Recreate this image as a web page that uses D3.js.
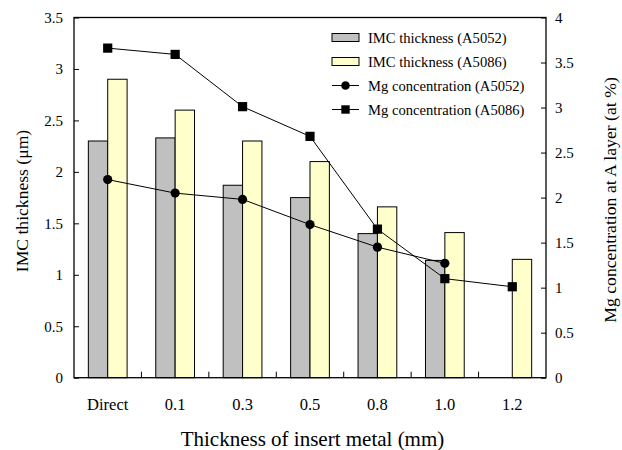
<!DOCTYPE html>
<html>
<head>
<meta charset="utf-8">
<script src="https://cdn.jsdelivr.net/npm/d3@7.9.0/dist/d3.min.js"></script>
<style>
  body { margin: 0; background: #fff; }
</style>
</head>
<body>
<svg width="622" height="450"></svg>
<script>
// data
const categories = ['Direct', '0.1', '0.3', '0.5', '0.8', '1.0', '1.2'];
const imcA5052 = [2.30, 2.33, 1.87, 1.75, 1.40, 1.14, null];
const imcA5086 = [2.90, 2.60, 2.30, 2.10, 1.66, 1.41, 1.15];
const mgA5052 = [2.20, 2.05, 1.98, 1.70, 1.45, 1.27, null];
const mgA5086 = [3.66, 3.59, 3.01, 2.68, 1.65, 1.10, 1.01];
const leftTicks = [0, 0.5, 1, 1.5, 2, 2.5, 3, 3.5];
const rightTicks = [0, 0.5, 1, 1.5, 2, 2.5, 3, 3.5, 4];

const serif = '"Liberation Serif", "Times New Roman", Times, "DejaVu Serif", serif';

const svg = d3.select('svg');
const plotL = 74, plotR = 546, plotT = 17.5, plotB = 377.7;

const x = d3.scaleBand().domain(categories).range([plotL, plotR]).padding(0);
const xSub = d3.scaleBand().domain(['A5052', 'A5086']).range([0, x.bandwidth()]).paddingInner(0).paddingOuter(0.74);
const yL = d3.scaleLinear().domain([0, 3.5]).range([plotB, plotT]);
const yR = d3.scaleLinear().domain([0, 4]).range([plotB, plotT]);

// bars
const barSeries = [
  { key: 'A5052', values: imcA5052, fill: '#c0c0c0' },
  { key: 'A5086', values: imcA5086, fill: '#ffffcc' }
];
barSeries.forEach(s => {
  svg.append('g').selectAll('rect')
    .data(categories.map((c, i) => ({ c, v: s.values[i] })).filter(d => d.v != null))
    .enter().append('rect')
    .attr('x', d => x(d.c) + xSub(s.key))
    .attr('y', d => yL(d.v))
    .attr('width', xSub.bandwidth())
    .attr('height', d => yL(0) - yL(d.v))
    .attr('fill', s.fill)
    .attr('stroke', '#000')
    .attr('stroke-width', 1);
});

// frame
svg.append('rect')
  .attr('x', plotL).attr('y', plotT)
  .attr('width', plotR - plotL).attr('height', plotB - plotT)
  .attr('fill', 'none').attr('stroke', '#000').attr('stroke-width', 1.3);

// axes with inward ticks
const axL = svg.append('g').attr('transform', `translate(${plotL},0)`)
  .call(d3.axisRight(yL).tickValues(leftTicks).tickSize(5).tickFormat(d3.format('')));
axL.select('.domain').remove();
axL.selectAll('text').attr('x', -11).attr('text-anchor', 'end').style('font-size', '15px');

const axR = svg.append('g').attr('transform', `translate(${plotR},0)`)
  .call(d3.axisLeft(yR).tickValues(rightTicks).tickSize(5).tickFormat(d3.format('')));
axR.select('.domain').remove();
axR.selectAll('text').attr('x', 9).attr('text-anchor', 'start').style('font-size', '15px');

const axB = svg.append('g').attr('transform', `translate(0,${plotB})`)
  .call(d3.axisTop(x).tickSize(0));
axB.select('.domain').remove();
axB.selectAll('text').attr('y', 27).attr('dy', '0.35em').style('font-size', '16.5px');

// separators between categories
svg.append('g').selectAll('line')
  .data(categories.slice(1))
  .enter().append('line')
  .attr('x1', d => x(d)).attr('x2', d => x(d))
  .attr('y1', plotB).attr('y2', plotB - 6)
  .attr('stroke', '#000');

svg.selectAll('.tick line').attr('stroke', '#000');

// lines
const cx = c => x(c) + x.bandwidth() / 2;
const lineSeries = [
  { values: mgA5052, shape: 'circle' },
  { values: mgA5086, shape: 'square' }
];
lineSeries.forEach(s => {
  const pts = categories.map((c, i) => ({ c, v: s.values[i] })).filter(d => d.v != null);
  svg.append('path')
    .datum(pts)
    .attr('d', d3.line().x(d => cx(d.c)).y(d => yR(d.v)))
    .attr('fill', 'none').attr('stroke', '#000').attr('stroke-width', 1);
  const g = svg.append('g');
  if (s.shape === 'circle') {
    g.selectAll('circle').data(pts).enter().append('circle')
      .attr('cx', d => cx(d.c)).attr('cy', d => yR(d.v)).attr('r', 4.6).attr('fill', '#000');
  } else {
    g.selectAll('rect').data(pts).enter().append('rect')
      .attr('x', d => cx(d.c) - 4.6).attr('y', d => yR(d.v) - 4.6)
      .attr('width', 9.2).attr('height', 9.2).attr('fill', '#000');
  }
});

// legend
const legendItems = [
  { label: 'IMC thickness (A5052)', type: 'bar', fill: '#c0c0c0' },
  { label: 'IMC thickness (A5086)', type: 'bar', fill: '#ffffcc' },
  { label: 'Mg concentration (A5052)', type: 'circle' },
  { label: 'Mg concentration (A5086)', type: 'square' }
];
const lg = svg.append('g');
legendItems.forEach((d, i) => {
  const yy = 37.5 + i * 24;
  const g = lg.append('g').attr('transform', `translate(332,${yy})`);
  if (d.type === 'bar') {
    g.append('rect').attr('x', 0).attr('y', -4).attr('width', 27).attr('height', 8)
      .attr('fill', d.fill).attr('stroke', '#000');
  } else {
    g.append('line').attr('x1', 0).attr('x2', 27).attr('y1', 0).attr('y2', 0).attr('stroke', '#000');
    if (d.type === 'circle') g.append('circle').attr('cx', 13.5).attr('r', 4.3).attr('fill', '#000');
    else g.append('rect').attr('x', 9.3).attr('y', -4.2).attr('width', 8.4).attr('height', 8.4).attr('fill', '#000');
  }
  g.append('text').attr('x', 36).attr('dy', '0.35em')
    .style('font-size', '14.6px').text(d.label);
});

// axis titles
svg.append('text')
  .attr('transform', `translate(22,201) rotate(-90)`)
  .attr('text-anchor', 'middle').attr('dy', '0.35em')
  .style('font-size', '17.6px').text('IMC thickness (μm)');

svg.append('text')
  .attr('transform', `translate(610,200) rotate(-90)`)
  .attr('text-anchor', 'middle').attr('dy', '0.35em')
  .style('font-size', '17.7px').text('Mg concentration at A layer (at %)');

svg.append('text')
  .attr('x', 312.5).attr('y', 446)
  .attr('text-anchor', 'middle')
  .style('font-size', '21px').text('Thickness of insert metal (mm)');

// one serif face for every label
svg.selectAll('text').style('font-family', serif).attr('fill', '#000');
</script>
</body>
</html>
